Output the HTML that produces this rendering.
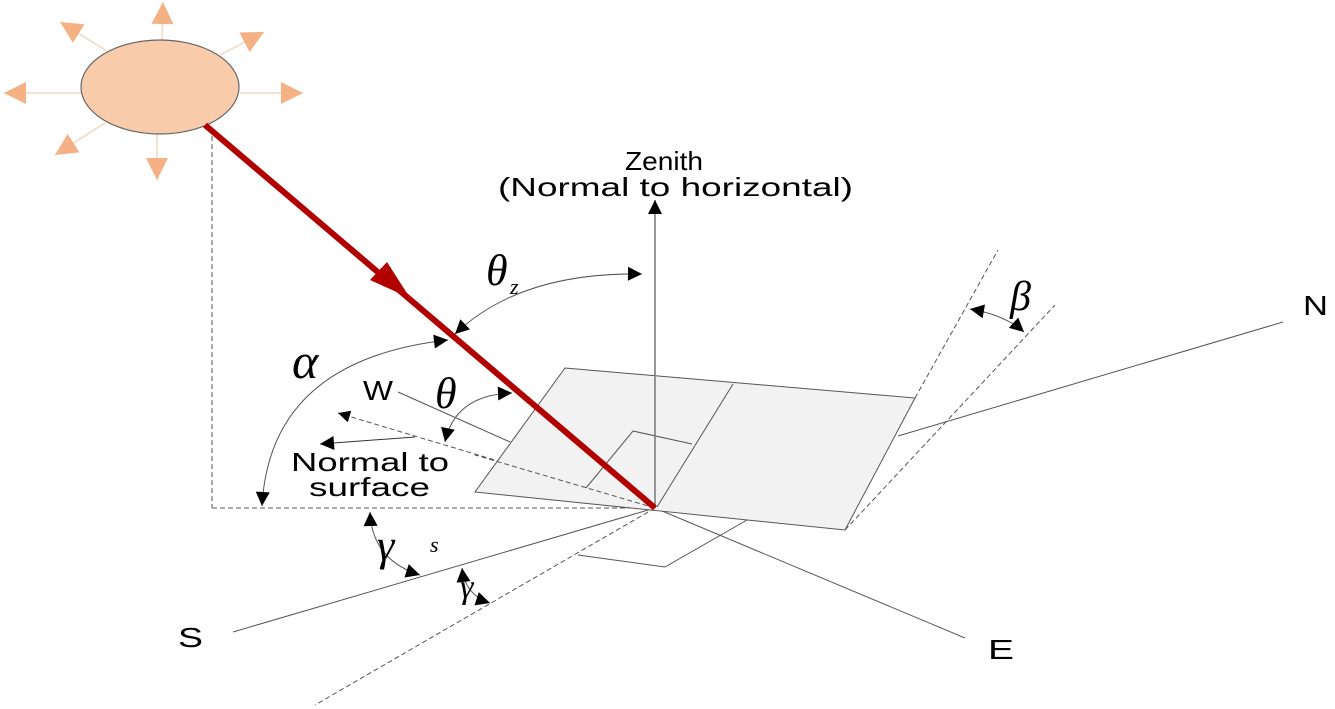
<!DOCTYPE html>
<html><head><meta charset="utf-8"><style>
html,body{margin:0;padding:0;background:#fff;}
svg{display:block;}
</style></head><body>
<svg width="1335" height="709" viewBox="0 0 1335 709" xmlns="http://www.w3.org/2000/svg">
<defs>
<marker id="ah" viewBox="0 0 10 10" refX="10" refY="5" markerWidth="18" markerHeight="12" markerUnits="userSpaceOnUse" orient="auto-start-reverse"><path d="M0,0 L10,5 L0,10 z" fill="#000"/></marker>
<marker id="ahl" viewBox="0 0 10 10" refX="10" refY="5" markerWidth="22" markerHeight="14" markerUnits="userSpaceOnUse" orient="auto-start-reverse"><path d="M0,0 L10,5 L0,10 z" fill="#000"/></marker>
<marker id="sa" viewBox="0 0 10 10" refX="10" refY="5" markerWidth="30" markerHeight="22" markerUnits="userSpaceOnUse" orient="auto"><path d="M0,0 L10,5 L0,10 z" fill="#f4b183"/></marker>
</defs>
<g stroke="#f5d5bd" stroke-width="1.5" fill="none">
<line x1="162" y1="40" x2="163" y2="2" marker-end="url(#sa)"/>
<line x1="157" y1="134" x2="157" y2="180" marker-end="url(#sa)"/>
<line x1="81" y1="93" x2="4" y2="93" marker-end="url(#sa)"/>
<line x1="240" y1="93" x2="303" y2="93" marker-end="url(#sa)"/>
<line x1="107" y1="51" x2="60" y2="22" marker-end="url(#sa)"/>
<line x1="220" y1="55" x2="264" y2="32" marker-end="url(#sa)"/>
<line x1="105" y1="123" x2="55" y2="155" marker-end="url(#sa)"/>
</g>
<ellipse cx="160" cy="87" rx="79" ry="47" fill="#f8cbaa" stroke="#666" stroke-width="1.2"/>
<g stroke="#555" stroke-width="1" fill="none" stroke-dasharray="5,3">
<line x1="212" y1="128" x2="212" y2="508"/>
<line x1="212" y1="508" x2="655" y2="508"/>
<line x1="655" y1="508" x2="315" y2="705"/>
<line x1="655" y1="508" x2="338" y2="413" marker-end="url(#ah)"/>
</g>
<g stroke="#555" stroke-width="1" fill="none">
<line x1="233" y1="632" x2="655" y2="508"/>
<line x1="655" y1="508" x2="965" y2="638"/>
<line x1="398" y1="392" x2="510" y2="442"/>
<line x1="898" y1="436" x2="1283" y2="322"/>
<line x1="415" y1="437" x2="320" y2="444" stroke="#333" marker-end="url(#ahl)"/>
<polyline points="578,555 665,567 747,520"/>
</g>
<polygon points="565,368 915,398 845,530 475,492" fill="#f2f2f2" stroke="#555" stroke-width="1"/>
<g stroke="#555" stroke-width="1" fill="none">
<line x1="733" y1="384" x2="657" y2="507"/>
<polyline points="586,488 633,431 692,444"/>
<line x1="655" y1="508" x2="655" y2="200" stroke="#777" stroke-width="1.5" marker-end="url(#ahl)"/>
</g>
<g stroke="#555" stroke-width="1" fill="none" stroke-dasharray="5,3">
<line x1="655" y1="508" x2="475" y2="455"/>
<line x1="915" y1="398" x2="998" y2="250"/>
<line x1="845" y1="530" x2="1055" y2="305"/>
</g>
<line x1="205" y1="125" x2="655" y2="508" stroke="#b20000" stroke-width="6"/>
<path d="M410,298 L370,280 L387,262 Z" fill="#b20000"/>
<g stroke="#555" stroke-width="1" fill="none">
<path d="M455,334 Q520,272 642,274" marker-start="url(#ahl)" marker-end="url(#ahl)"/>
<path d="M448,340 Q270,360 262,506" marker-start="url(#ahl)" marker-end="url(#ahl)"/>
<path d="M512,393 Q455,395 445,442" marker-start="url(#ahl)" marker-end="url(#ahl)"/>
<path d="M370,512 Q372,560 420,575" marker-start="url(#ahl)" marker-end="url(#ahl)"/>
<path d="M462,568 Q465,595 490,603" marker-start="url(#ahl)" marker-end="url(#ahl)"/>
<path d="M970,309 Q1005,315 1024,332" marker-start="url(#ahl)" marker-end="url(#ahl)"/>
</g>
<g font-family="Liberation Sans, sans-serif" font-size="26" fill="#000">
<text x="625" y="170" textLength="78" lengthAdjust="spacingAndGlyphs">Zenith</text>
<text x="498" y="196" textLength="355" lengthAdjust="spacingAndGlyphs">(Normal to horizontal)</text>
<text x="291" y="471" textLength="158" lengthAdjust="spacingAndGlyphs">Normal to</text>
<text x="309" y="496" textLength="121" lengthAdjust="spacingAndGlyphs">surface</text>
<text x="1303" y="315" font-size="28" textLength="25" lengthAdjust="spacingAndGlyphs">N</text>
<text x="178" y="647" font-size="28" textLength="25" lengthAdjust="spacingAndGlyphs">S</text>
<text x="988" y="659" font-size="28" textLength="26" lengthAdjust="spacingAndGlyphs">E</text>
<text x="363" y="400" font-size="28" textLength="30" lengthAdjust="spacingAndGlyphs">W</text>
</g>
<g font-family="Liberation Serif, serif" font-style="italic" fill="#000">
<text x="486" y="285" font-size="44">θ</text><text x="510" y="294" font-size="22">z</text>
<text x="292" y="378" font-size="50">α</text>
<text x="435" y="408" font-size="44">θ</text>
<text x="377" y="560" font-size="44">γ</text><text x="430" y="552" font-size="22">s</text>
<text x="460" y="598" font-size="34">γ</text>
<text x="1010" y="310" font-size="42">β</text>
</g>
</svg>
</body></html>
